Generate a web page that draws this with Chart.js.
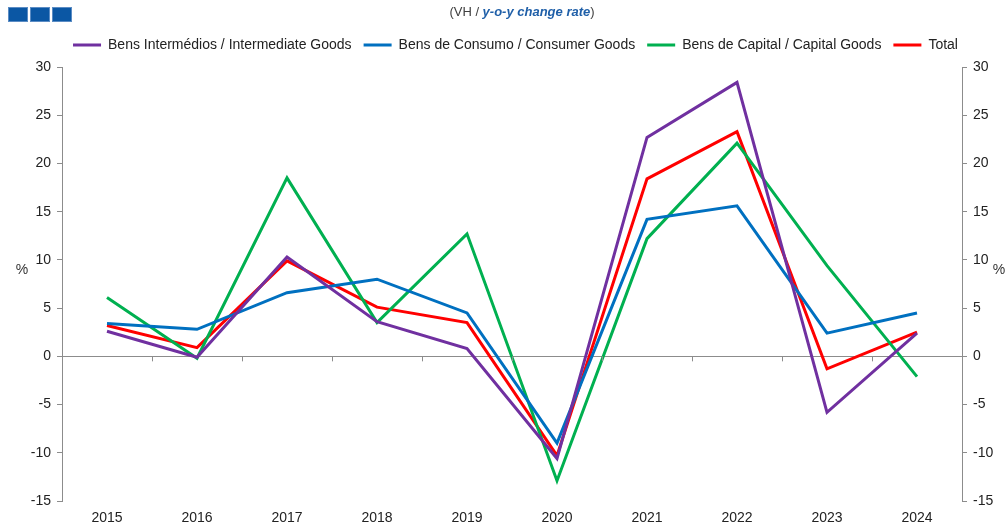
<!DOCTYPE html>
<html>
<head>
<meta charset="utf-8">
<script src="https://cdn.jsdelivr.net/npm/chart.js@4/dist/chart.umd.min.js"></script>
<style>
  body { margin: 0; background: #fff; }
  #wrap { position: relative; width: 1007px; height: 524px; }
  .sq { position: absolute; top: 7px; width: 20px; height: 15px; background: #0b57a4; border: 1px solid #5b8cc4; box-sizing: border-box; }
  #titulo { position: absolute; top: 4px; left: 0; width: 1044px; text-align: center; font: 13px "Liberation Sans", Arial, sans-serif; color: #404040; }
  #titulo b { color: #1f5fa8; font-style: italic; }
</style>
</head>
<body>
<div id="wrap">
  <div class="sq" style="left:8px"></div>
  <div class="sq" style="left:30px"></div>
  <div class="sq" style="left:52px"></div>
  <div id="titulo">(VH / <b>y-o-y change rate</b>)</div>
  <canvas id="grafico" width="1007" height="524"></canvas>
</div>
<script>
var anos = ['2015', '2016', '2017', '2018', '2019', '2020', '2021', '2022', '2023', '2024'];
var intermedios = [2.6, -0.1, 10.3, 3.6, 0.8, -10.6, 22.7, 28.4, -5.8, 2.4];
var consumo = [3.4, 2.8, 6.6, 8.0, 4.5, -9.0, 14.2, 15.6, 2.4, 4.5];
var capital = [6.1, -0.2, 18.5, 3.5, 12.7, -12.9, 12.2, 22.1, 9.4, -2.1];
var total = [3.2, 0.9, 9.9, 5.1, 3.5, -10.3, 18.4, 23.3, -1.3, 2.5];

var fonte = "'Liberation Sans', Arial, sans-serif";
var cinza = '#8c8c8c';

function serie(nome, valores, cor) {
    return {
        label: nome,
        data: valores,
        borderColor: cor,
        backgroundColor: cor,
        borderWidth: 3,
        pointRadius: 0,
        tension: 0,
        yAxisID: 'y'
    };
}

// marcas na linha do zero e os "%" nos dois eixos
var extras = {
    id: 'extras',
    afterInit: function (chart) {
        // um pouco mais de espaço por baixo da legenda
        var legenda = chart.legend;
        var fitOriginal = legenda.fit;
        legenda.fit = function () {
            fitOriginal.call(this);
            this.height += 5;
        };
    },
    afterDraw: function (chart) {
        var ctx = chart.ctx;
        var x = chart.scales.x;
        var y = chart.scales.y;
        var y0 = y.getPixelForValue(0);
        ctx.save();
        ctx.strokeStyle = cinza;
        ctx.lineWidth = 1;
        for (var i = 1; i < anos.length; i++) {
            var px = Math.round((x.getPixelForValue(i - 1) + x.getPixelForValue(i)) / 2) + 0.5;
            ctx.beginPath();
            ctx.moveTo(px, y0);
            ctx.lineTo(px, y0 + 5);
            ctx.stroke();
        }
        ctx.fillStyle = '#333';
        ctx.font = '14px ' + fonte;
        ctx.textAlign = 'center';
        ctx.textBaseline = 'middle';
        ctx.fillText('%', 22, 270);
        ctx.fillText('%', 999, 270);
        ctx.restore();
    }
};

var ctx = document.getElementById('grafico').getContext('2d');

var grafico = new Chart(ctx, {
    type: 'line',
    data: {
        labels: anos,
        datasets: [
            serie('Bens Intermédios / Intermediate Goods', intermedios, '#7030a0'),
            serie('Bens de Consumo / Consumer Goods', consumo, '#0070c0'),
            serie('Bens de Capital / Capital Goods', capital, '#00b050'),
            serie('Total', total, '#ff0000')
        ]
    },
    options: {
        responsive: false,
        animation: false,
        layout: { padding: { top: 26, bottom: 0, left: 24, right: 0 } },
        plugins: {
            legend: {
                position: 'top',
                labels: {
                    boxWidth: 28,
                    boxHeight: 0,
                    padding: 12,
                    color: '#222',
                    font: { size: 14, family: fonte }
                }
            },
            tooltip: { enabled: false }
        },
        scales: {
            x: {
                offset: true,
                afterFit: function (s) { s.height = 23; },
                grid: { display: false, drawTicks: false },
                border: { display: false },
                ticks: { padding: 9, color: '#222', font: { size: 14, family: fonte } }
            },
            y: {
                position: 'left',
                min: -15,
                max: 30,
                afterFit: function (s) { s.width = 38; },
                border: { color: cinza },
                grid: {
                    color: function (c) { return c.tick && c.tick.value === 0 ? cinza : 'transparent'; },
                    tickColor: cinza,
                    tickLength: 5
                },
                ticks: { stepSize: 5, padding: 6, color: '#222', font: { size: 14, family: fonte } }
            },
            y2: {
                position: 'right',
                min: -15,
                max: 30,
                afterFit: function (s) { s.width = 45; },
                border: { color: cinza },
                grid: { drawOnChartArea: false, tickColor: cinza, tickLength: 5 },
                ticks: { stepSize: 5, padding: 6, color: '#222', font: { size: 14, family: fonte } }
            }
        }
    },
    plugins: [extras]
});
</script>
</body>
</html>
